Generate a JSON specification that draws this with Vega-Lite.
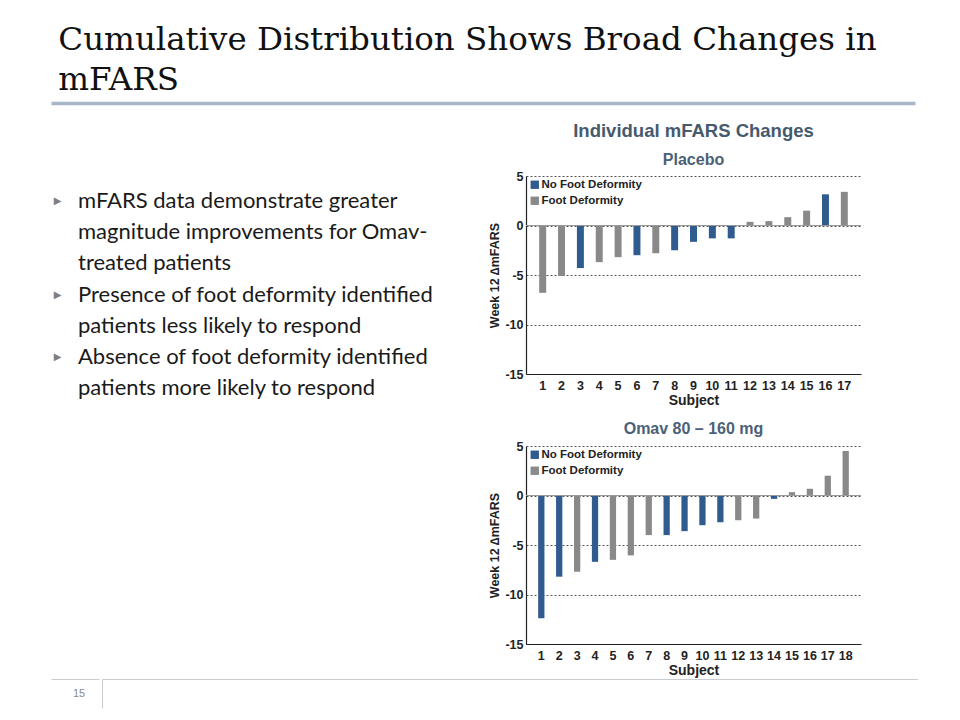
{
  "$schema": "https://vega.github.io/schema/vega-lite/v6.json",
  "background": "white",
  "padding": {"left": 48, "top": 24, "right": 0, "bottom": 0},
  "title": {
    "text": ["Cumulative Distribution Shows Broad Changes in", "mFARS"],
    "anchor": "start",
    "dx": 10,
    "font": "DejaVu Serif",
    "fontSize": 32.5,
    "fontWeight": "normal",
    "lineHeight": 40,
    "color": "#111111",
    "offset": 3
  },
  "datasets": {
    "placebo": [
      {"subject": 1, "change": -6.8, "group": "Foot Deformity"},
      {"subject": 2, "change": -5.1, "group": "Foot Deformity"},
      {"subject": 3, "change": -4.3, "group": "No Foot Deformity"},
      {"subject": 4, "change": -3.7, "group": "Foot Deformity"},
      {"subject": 5, "change": -3.2, "group": "Foot Deformity"},
      {"subject": 6, "change": -3.0, "group": "No Foot Deformity"},
      {"subject": 7, "change": -2.8, "group": "Foot Deformity"},
      {"subject": 8, "change": -2.5, "group": "No Foot Deformity"},
      {"subject": 9, "change": -1.65, "group": "No Foot Deformity"},
      {"subject": 10, "change": -1.3, "group": "No Foot Deformity"},
      {"subject": 11, "change": -1.3, "group": "No Foot Deformity"},
      {"subject": 12, "change": 0.37, "group": "Foot Deformity"},
      {"subject": 13, "change": 0.44, "group": "Foot Deformity"},
      {"subject": 14, "change": 0.84, "group": "Foot Deformity"},
      {"subject": 15, "change": 1.5, "group": "Foot Deformity"},
      {"subject": 16, "change": 3.15, "group": "No Foot Deformity"},
      {"subject": 17, "change": 3.4, "group": "Foot Deformity"}
    ],
    "omav": [
      {"subject": 1, "change": -12.4, "group": "No Foot Deformity"},
      {"subject": 2, "change": -8.2, "group": "No Foot Deformity"},
      {"subject": 3, "change": -7.7, "group": "Foot Deformity"},
      {"subject": 4, "change": -6.7, "group": "No Foot Deformity"},
      {"subject": 5, "change": -6.5, "group": "Foot Deformity"},
      {"subject": 6, "change": -6.05, "group": "Foot Deformity"},
      {"subject": 7, "change": -4.0, "group": "Foot Deformity"},
      {"subject": 8, "change": -4.0, "group": "No Foot Deformity"},
      {"subject": 9, "change": -3.6, "group": "No Foot Deformity"},
      {"subject": 10, "change": -3.0, "group": "No Foot Deformity"},
      {"subject": 11, "change": -2.7, "group": "No Foot Deformity"},
      {"subject": 12, "change": -2.5, "group": "Foot Deformity"},
      {"subject": 13, "change": -2.33, "group": "Foot Deformity"},
      {"subject": 14, "change": -0.34, "group": "No Foot Deformity"},
      {"subject": 15, "change": 0.34, "group": "Foot Deformity"},
      {"subject": 16, "change": 0.68, "group": "Foot Deformity"},
      {"subject": 17, "change": 2.0, "group": "Foot Deformity"},
      {"subject": 18, "change": 4.5, "group": "Foot Deformity"}
    ],
    "bullets": [
      {"line": 1, "kind": "bullet", "text": "▶"},
      {"line": 1, "kind": "text", "text": "mFARS data demonstrate greater"},
      {"line": 2, "kind": "text", "text": "magnitude improvements for Omav-"},
      {"line": 3, "kind": "text", "text": "treated patients"},
      {"line": 4, "kind": "bullet", "text": "▶"},
      {"line": 4, "kind": "text", "text": "Presence of foot deformity identified"},
      {"line": 5, "kind": "text", "text": "patients less likely to respond"},
      {"line": 6, "kind": "bullet", "text": "▶"},
      {"line": 6, "kind": "text", "text": "Absence of foot deformity identified"},
      {"line": 7, "kind": "text", "text": "patients more likely to respond"}
    ],
    "one": [{"v": 0, "label": "15"}]
  },
  "config": {
    "view": {"stroke": null},
    "axis": {"labelFont": "Liberation Sans", "titleFont": "Liberation Sans"}
  },
  "spacing": 1,
  "vconcat": [
    {
      "spacing": 15,
      "vconcat": [
        {
          "width": 864,
          "height": 1,
          "data": {"name": "one"},
          "mark": {"type": "point", "opacity": 0},
          "encoding": {
            "x": {"field": "v", "type": "quantitative", "scale": {"domain": [0, 1]},
              "axis": {"orient": "bottom", "domainColor": "#a6b7c7", "domainWidth": 3.5, "labels": false, "ticks": false, "grid": false, "title": null}}
          }
        },
        {
          "spacing": 42,
          "hconcat": [
            {
              "width": 395,
              "height": 230,
              "data": {"name": "bullets"},
              "layer": [
                {
                  "transform": [{"filter": "datum.kind === 'bullet'"}],
                  "mark": {"type": "text", "align": "center", "baseline": "middle", "font": "DejaVu Sans", "fontSize": 10, "color": "#7f7f7f"},
                  "encoding": {
                    "x": {"field": "kind", "type": "nominal", "axis": null, "scale": {"type": "point", "domain": ["bullet", "text"], "range": [6.5, 27], "padding": 0}},
                    "y": {"field": "line", "type": "ordinal", "axis": null, "scale": {"type": "point", "range": [25, 212], "padding": 0}},
                    "text": {"field": "text"}
                  }
                },
                {
                  "transform": [{"filter": "datum.kind === 'text'"}],
                  "mark": {"type": "text", "align": "left", "baseline": "middle", "font": "Lato", "fontSize": 22, "color": "#1a1a1a"},
                  "encoding": {
                    "x": {"field": "kind", "type": "nominal", "axis": null, "scale": {"type": "point", "domain": ["bullet", "text"], "range": [6.5, 27], "padding": 0}},
                    "y": {"field": "line", "type": "ordinal", "axis": null, "scale": {"type": "point", "range": [25, 212], "padding": 0}},
                    "text": {"field": "text"}
                  }
                }
              ]
            },
            {
              "spacing": 13,
              "resolve": {"scale": {"color": "independent"}, "legend": {"color": "independent"}},
              "vconcat": [
                {
                  "width": 335,
                  "height": 198,
                  "title": {
                    "text": "Individual mFARS Changes",
                    "subtitle": "Placebo",
                    "font": "Liberation Sans",
                    "fontSize": 18.5,
                    "fontWeight": "bold",
                    "color": "#465a6e",
                    "subtitleFont": "Liberation Sans",
                    "subtitleFontSize": 16,
                    "subtitleFontWeight": "bold",
                    "subtitleColor": "#4b6177",
                    "subtitlePadding": 12,
                    "offset": 2,
                    "anchor": "middle"
                  },
                  "data": {"name": "placebo"},
                  "layer": [
                    {
                      "mark": {"type": "bar"},
                      "encoding": {
                        "x": {"field": "subject", "type": "ordinal", "title": "Subject",
                          "scale": {"paddingInner": 0.63, "paddingOuter": 0.7},
                          "axis": {"labelAngle": 0, "ticks": false, "domainColor": "#222222", "domainWidth": 1.2, "labelFontSize": 12.5, "labelFontWeight": "bold", "labelColor": "#222222", "labelPadding": 5, "labelOverlap": false, "titleFontSize": 14, "titleFontWeight": "bold", "titleColor": "#222222", "titlePadding": 2, "grid": false}},
                        "y": {"field": "change", "type": "quantitative", "title": "Week 12 ∆mFARS",
                          "scale": {"domain": [-15, 5], "nice": false},
                          "axis": {"values": [-15, -10, -5, 0, 5], "labelExpr": "replace(datum.label, '−', '-')", "ticks": false, "domainColor": "#222222", "domainWidth": 1.2, "labelFontSize": 12.5, "labelFontWeight": "bold", "labelColor": "#222222", "labelPadding": 3, "titleFontSize": 12.5, "titleFontWeight": "bold", "titleColor": "#222222", "titlePadding": 3, "grid": true, "gridColor": "#555555", "gridDash": [2, 2], "gridWidth": 1}},
                        "color": {"field": "group", "type": "nominal",
                          "scale": {"domain": ["No Foot Deformity", "Foot Deformity"], "range": ["#2f5b8e", "#898989"]},
                          "legend": {"title": null, "orient": "top-left", "offset": 3, "padding": 0, "symbolType": "square", "symbolSize": 70, "symbolStrokeWidth": 0, "symbolOpacity": 1, "labelFont": "Liberation Sans", "labelFontSize": 11.5, "labelFontWeight": "bold", "labelColor": "#222222", "labelOffset": 1, "rowPadding": 3}}
                      }
                    },
                    {
                      "mark": {"type": "rule", "color": "#9a9a9a", "strokeWidth": 1.2},
                      "encoding": {"y": {"datum": 0}}
                    }
                  ]
                },
                {
                  "width": 335,
                  "height": 198,
                  "title": {
                    "text": "Omav 80 – 160 mg",
                    "font": "Liberation Sans",
                    "fontSize": 16,
                    "fontWeight": "bold",
                    "color": "#4b6177",
                    "offset": 3,
                    "anchor": "middle"
                  },
                  "data": {"name": "omav"},
                  "layer": [
                    {
                      "mark": {"type": "bar"},
                      "encoding": {
                        "x": {"field": "subject", "type": "ordinal", "title": "Subject",
                          "scale": {"paddingInner": 0.65, "paddingOuter": 0.68},
                          "axis": {"labelAngle": 0, "ticks": false, "domainColor": "#222222", "domainWidth": 1.2, "labelFontSize": 12.5, "labelFontWeight": "bold", "labelColor": "#222222", "labelPadding": 5, "labelOverlap": false, "titleFontSize": 14, "titleFontWeight": "bold", "titleColor": "#222222", "titlePadding": 2, "grid": false}},
                        "y": {"field": "change", "type": "quantitative", "title": "Week 12 ∆mFARS",
                          "scale": {"domain": [-15, 5], "nice": false},
                          "axis": {"values": [-15, -10, -5, 0, 5], "labelExpr": "replace(datum.label, '−', '-')", "ticks": false, "domainColor": "#222222", "domainWidth": 1.2, "labelFontSize": 12.5, "labelFontWeight": "bold", "labelColor": "#222222", "labelPadding": 3, "titleFontSize": 12.5, "titleFontWeight": "bold", "titleColor": "#222222", "titlePadding": 3, "grid": true, "gridColor": "#555555", "gridDash": [2, 2], "gridWidth": 1}},
                        "color": {"field": "group", "type": "nominal",
                          "scale": {"domain": ["No Foot Deformity", "Foot Deformity"], "range": ["#2f5b8e", "#898989"]},
                          "legend": {"title": null, "orient": "top-left", "offset": 3, "padding": 0, "symbolType": "square", "symbolSize": 70, "symbolStrokeWidth": 0, "symbolOpacity": 1, "labelFont": "Liberation Sans", "labelFontSize": 11.5, "labelFontWeight": "bold", "labelColor": "#222222", "labelOffset": 1, "rowPadding": 3}}
                      }
                    },
                    {
                      "mark": {"type": "rule", "color": "#9a9a9a", "strokeWidth": 1.2},
                      "encoding": {"y": {"datum": 0}}
                    }
                  ]
                }
              ]
            }
          ]
        }
      ]
    },
    {
      "spacing": 0,
      "hconcat": [
        {
          "width": 48,
          "height": 29,
          "data": {"name": "one"},
          "layer": [
            {
              "mark": {"type": "point", "opacity": 0},
              "encoding": {
                "x": {"field": "v", "type": "quantitative", "scale": {"domain": [0, 1]},
                  "axis": {"orient": "top", "domainColor": "#c9cdd2", "domainWidth": 1, "labels": false, "ticks": false, "grid": false, "title": null}}
              }
            },
            {
              "mark": {"type": "text", "font": "Liberation Sans", "fontSize": 11, "color": "#8a8a8a", "align": "center", "baseline": "middle", "dx": 4},
              "encoding": {"text": {"field": "label"}}
            }
          ]
        },
        {
          "width": 816,
          "height": 29,
          "data": {"name": "one"},
          "mark": {"type": "point", "opacity": 0},
          "encoding": {
            "x": {"field": "v", "type": "quantitative", "scale": {"domain": [0, 1]},
              "axis": {"orient": "top", "domainColor": "#c9cdd2", "domainWidth": 1, "labels": false, "ticks": false, "grid": false, "title": null}},
            "y": {"field": "v", "type": "quantitative", "scale": {"domain": [0, 1]},
              "axis": {"orient": "left", "domainColor": "#c9cdd2", "domainWidth": 1, "labels": false, "ticks": false, "grid": false, "title": null}}
          }
        }
      ]
    }
  ]
}
